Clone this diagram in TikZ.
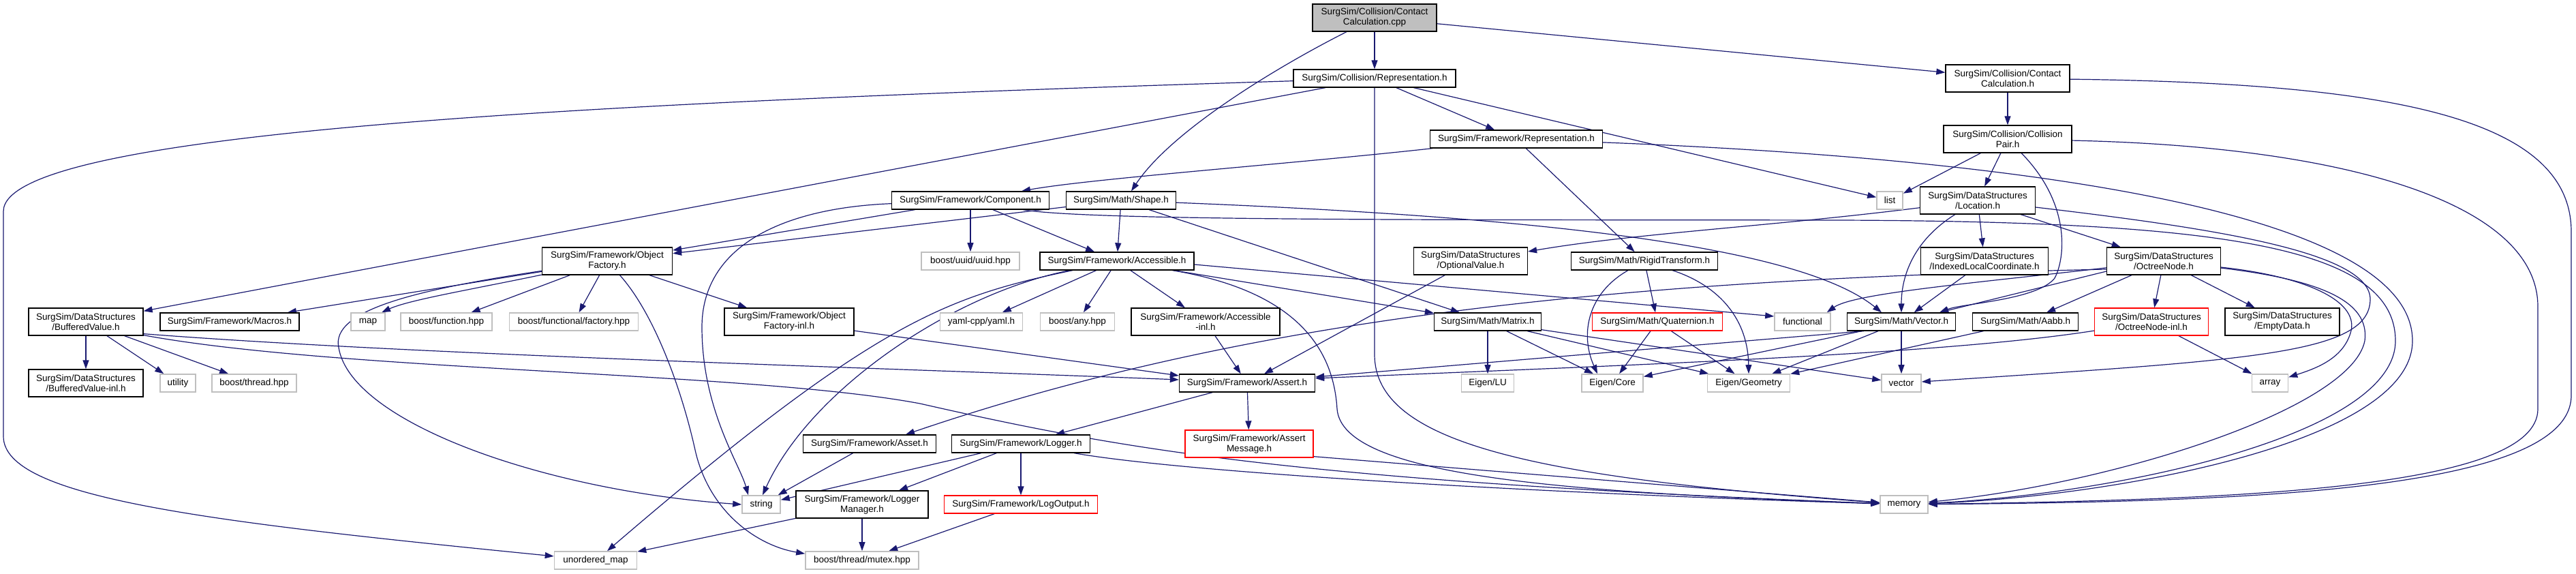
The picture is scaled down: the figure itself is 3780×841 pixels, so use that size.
\documentclass[tikz,border=0pt]{standalone}
\usepackage{fontspec}
\setmainfont{Liberation Sans}
\usetikzlibrary{arrows.meta,calc}
\pgfdeclarelayer{bg}
\pgfsetlayers{bg,main}
\definecolor{edgec}{HTML}{191970}
\definecolor{grayb}{HTML}{BFBFBF}
\tikzset{
  nd/.style={rectangle, draw=black, line width=1.3pt, fill=white, inner sep=0pt, align=center,
    font=\fontsize{13.5}{15}\selectfont, text=black},
  sys/.style={nd, draw=grayb, line width=1.6pt},
  trunc/.style={nd, draw=red},
  root/.style={nd, fill=grayb},
  edge/.style={draw=edgec, line width=1.2pt, -{Triangle[length=13pt,width=9pt]}},
}
\newcommand{\mynode}[7]{\node[#1, minimum width=#5pt, minimum height=#6pt] (#2) at (#3,#4) {#7};}
\begin{document}
\begin{tikzpicture}[x=1pt,y=-1pt]
\useasboundingbox (0,0) rectangle (3780,841);
% nodes
\mynode{root}{cpp}{2017}{26}{182}{40}{SurgSim/Collision/Contact\\Calculation.cpp}
\mynode{nd}{crep}{2017}{115}{238}{26}{SurgSim/Collision/Representation.h}
\mynode{nd}{frep}{2225}{204}{253}{26}{SurgSim/Framework/Representation.h}
\mynode{nd}{comp}{1424}{294}{231}{26}{SurgSim/Framework/Component.h}
\mynode{nd}{shape}{1645}{294}{161}{26}{SurgSim/Math/Shape.h}
\mynode{sys}{uuid}{1424}{383}{144}{26}{boost/uuid/uuid.hpp}
\mynode{nd}{acc}{1639}{383}{226}{26}{SurgSim/Framework/Accessible.h}
\mynode{nd}{optv}{2158}{383}{167}{40}{SurgSim/DataStructures\\/OptionalValue.h}
\mynode{nd}{rigid}{2413}{383}{215}{26}{SurgSim/Math/RigidTransform.h}
\mynode{nd}{cch}{2946}{115}{182}{40}{SurgSim/Collision/Contact\\Calculation.h}
\mynode{nd}{cpair}{2946}{204}{188}{40}{SurgSim/Collision/Collision\\Pair.h}
\mynode{sys}{list}{2773}{294}{38}{26}{list}
\mynode{nd}{loc}{2902}{294}{169}{40}{SurgSim/DataStructures\\/Location.h}
\mynode{nd}{ilc}{2912}{383}{187}{40}{SurgSim/DataStructures\\/IndexedLocalCoordinate.h}
\mynode{nd}{oct}{3175}{383}{167}{40}{SurgSim/DataStructures\\/OctreeNode.h}
\mynode{nd}{objf}{891}{383}{191}{40}{SurgSim/Framework/Object\\Factory.h}
\mynode{nd}{bval}{126}{472}{168}{40}{SurgSim/DataStructures\\/BufferedValue.h}
\mynode{nd}{macros}{337}{472}{204}{26}{SurgSim/Framework/Macros.h}
\mynode{sys}{map}{540}{472}{50}{26}{map}
\mynode{sys}{bfunc}{655}{472}{134}{26}{boost/function.hpp}
\mynode{sys}{bfactory}{842}{472}{189}{26}{boost/functional/factory.hpp}
\mynode{nd}{objfinl}{1158}{472}{190}{40}{SurgSim/Framework/Object\\Factory-inl.h}
\mynode{nd}{bvalinl}{126}{562}{168}{40}{SurgSim/DataStructures\\/BufferedValue-inl.h}
\mynode{sys}{utility}{261}{562}{52}{26}{utility}
\mynode{sys}{bthread}{373}{562}{124}{26}{boost/thread.hpp}
\mynode{sys}{string}{1117}{740}{56}{26}{string}
\mynode{nd}{logmgr}{1265}{740}{194}{40}{SurgSim/Framework/Logger\\Manager.h}
\mynode{sys}{umap}{874}{822}{121}{26}{unordered\_map}
\mynode{sys}{mutex}{1265}{822}{166}{26}{boost/thread/mutex.hpp}
\mynode{sys}{yaml}{1440}{472}{121}{26}{yaml-cpp/yaml.h}
\mynode{sys}{any}{1581}{472}{109}{26}{boost/any.hpp}
\mynode{nd}{accinl}{1769}{472}{218}{40}{SurgSim/Framework/Accessible\\-inl.h}
\mynode{nd}{matrix}{2183}{472}{157}{26}{SurgSim/Math/Matrix.h}
\mynode{trunc}{quat}{2432}{472}{191}{26}{SurgSim/Math/Quaternion.h}
\mynode{nd}{assert}{1830}{562}{199}{26}{SurgSim/Framework/Assert.h}
\mynode{sys}{eigenlu}{2183}{562}{77}{26}{Eigen/LU}
\mynode{sys}{eigencore}{2366}{562}{90}{26}{Eigen/Core}
\mynode{sys}{eigengeo}{2566}{562}{121}{26}{Eigen/Geometry}
\mynode{nd}{asset}{1276}{651}{195}{26}{SurgSim/Framework/Asset.h}
\mynode{nd}{logger}{1498}{651}{203}{26}{SurgSim/Framework/Logger.h}
\mynode{trunc}{amsg}{1833}{651}{188}{40}{SurgSim/Framework/Assert\\Message.h}
\mynode{trunc}{logout}{1498}{740}{225}{26}{SurgSim/Framework/LogOutput.h}
\mynode{sys}{functional}{2645}{472}{82}{26}{functional}
\mynode{nd}{vec}{2790}{472}{159}{26}{SurgSim/Math/Vector.h}
\mynode{nd}{aabb}{2972}{472}{155}{26}{SurgSim/Math/Aabb.h}
\mynode{trunc}{octinl}{3157}{472}{167}{40}{SurgSim/DataStructures\\/OctreeNode-inl.h}
\mynode{nd}{empty}{3349}{472}{168}{40}{SurgSim/DataStructures\\/EmptyData.h}
\mynode{sys}{vector}{2790}{562}{58}{26}{vector}
\mynode{sys}{array}{3331}{562}{53}{26}{array}
\mynode{sys}{memory}{2794}{740}{70}{26}{memory}
% edges
\begin{pgfonlayer}{bg}
\draw[edge] (cpp) -- (crep);
\draw[edge] (cpp) .. controls (1880,95) and (1720,190) .. ($(shape.north)+(15,0)$);
\draw[edge] (cpp) -- (cch);
\draw[edge] (crep) -- (frep);
\draw[edge] (crep) -- (list);
\draw[edge] (crep) -- (2017,520) .. controls (2017,650) and (2250,700) .. (memory);
\draw[edge] (crep) .. controls (900,150) and (5,190) .. (5,310) -- (5,640) .. controls (5,730) and (300,765) .. (umap);
\draw[edge] (crep) -- (bval);
\draw[edge] (frep) .. controls (1900,240) and (1600,262) .. ($(comp.north)+(75,0)$);
\draw[edge] (frep) -- (rigid);
\draw[edge] (frep) .. controls (2900,230) and (3540,300) .. (3540,500) .. controls (3540,650) and (3100,728) .. (memory);
\draw[edge] (comp) -- (objf);
\draw[edge] (comp) .. controls (1150,305) and (1030,360) .. (1030,480) .. controls (1030,600) and (1085,680) .. ($(string.north)+(-19,0)$);
\draw[edge] (comp) -- (uuid);
\draw[edge] (comp) -- (acc);
\draw[edge] (comp) .. controls (1600,325) and (2200,322) .. (2700,323) .. controls (3250,325) and (3515,360) .. (3515,500) .. controls (3515,640) and (3100,725) .. (memory);
\draw[edge] (shape) -- (objf);
\draw[edge] (shape) -- (acc);
\draw[edge] (shape) -- (matrix);
\draw[edge] (shape) .. controls (2250,318) and (2640,360) .. ($(vec.north)+(-29,0)$);
\draw[edge] (acc) .. controls (1390,435) and (1285,470) .. ($(umap.north)+(17,0)$);
\draw[edge] (acc) .. controls (1400,430) and (1190,570) .. ($(string.north)+(2,0)$);
\draw[edge] (acc) -- (yaml);
\draw[edge] (acc) -- (any);
\draw[edge] (acc) -- (accinl);
\draw[edge] (acc) .. controls (1860,420) and (1955,480) .. (1962,600) .. controls (1970,700) and (2300,722) .. (memory);
\draw[edge] (acc) -- (matrix);
\draw[edge] ($(acc.east)+(0,5)$) -- ($(functional.west)+(0,-8)$);
\draw[edge] (objf) -- (macros);
\draw[edge] (objf) .. controls (690,425) and (600,440) .. ($(map.north)+(20,0)$);
\draw[edge] (objf) -- (bfunc);
\draw[edge] (objf) -- (bfactory);
\draw[edge] (objf) -- (objfinl);
\draw[edge] (objf) .. controls (610,425) and (485,455) .. (497,510) .. controls (515,620) and (800,720) .. (string.west);
\draw[edge] (objf) .. controls (960,460) and (1000,570) .. (1020,660) .. controls (1040,750) and (1110,800) .. ($(mutex.north west)+(0,4)$);
\draw[edge] (bval) -- (bvalinl);
\draw[edge] (bval) -- (utility);
\draw[edge] (bval) -- (bthread);
\draw[edge] ($(bval.south east)+(0,-3)$) .. controls (600,520) and (1300,540) .. ($(assert.west)+(0,-5)$);
\draw[edge] ($(bval.south east)+(0,-1)$) .. controls (500,545) and (1100,545) .. (1350,592) .. controls (1650,660) and (1900,705) .. (memory);
\draw[edge] (objfinl) -- ($(assert.west)+(0,-11)$);
\draw[edge] (accinl) -- (assert);
\draw[edge] (optv) -- (assert);
\draw[edge] ($(vec.south west)+(25,0)$) -- ($(assert.east)+(0,-9)$);
\draw[edge] (octinl) .. controls (2850,520) and (2400,535) .. ($(assert.east)+(0,-7)$);
\draw[edge] (vec) -- (vector);
\draw[edge] ($(vec.south west)+(22,0)$) -- (eigencore);
\draw[edge] (vec) -- (eigengeo);
\draw[edge] (matrix) -- (eigenlu);
\draw[edge] (matrix) -- (eigencore);
\draw[edge] (matrix) -- (eigengeo);
\draw[edge] (matrix) -- (vector);
\draw[edge] (quat) -- (eigencore);
\draw[edge] (quat) -- (eigengeo);
\draw[edge] (rigid) .. controls (2330,430) and (2318,490) .. ($(eigencore.north)+(-22,0)$);
\draw[edge] (rigid) -- (quat);
\draw[edge] (rigid) .. controls (2525,420) and (2565,470) .. (eigengeo.north);
\draw[edge] (cch) -- (cpair);
\draw[edge] (cch) .. controls (3500,122) and (3773,170) .. (3773,340) -- (3773,580) .. controls (3773,720) and (3300,736) .. (memory);
\draw[edge] (cpair) -- (list);
\draw[edge] (cpair) -- (loc);
\draw[edge] (cpair) .. controls (3040,300) and (3030,380) .. (3015,408) .. controls (2990,440) and (2880,445) .. ($(vec.north)+(56,0)$);
\draw[edge] (cpair) .. controls (3450,215) and (3724,300) .. (3724,450) -- (3724,600) .. controls (3724,715) and (3300,733) .. (memory);
\draw[edge] (loc) .. controls (2600,332) and (2400,342) .. ($(optv.east)+(0,-14)$);
\draw[edge] (loc) .. controls (2812,350) and (2790,400) .. (vec.north);
\draw[edge] (loc) -- (ilc);
\draw[edge] (loc) -- (oct);
\draw[edge] (loc) .. controls (3250,335) and (3480,370) .. (3478,440) .. controls (3476,520) and (3300,528) .. (vector);
\draw[edge] (ilc) -- (vec);
\draw[edge] ($(oct.west)+(0,12)$) .. controls (2400,410) and (1850,460) .. ($(asset.north)+(53,0)$);
\draw[edge] (oct) .. controls (2900,415) and (2720,430) .. ($(functional.north east)+(-6,0)$);
\draw[edge] ($(oct.west)+(0,15)$) -- ($(vec.north)+(56,0)$);
\draw[edge] (oct) -- (aabb);
\draw[edge] (oct) -- (octinl);
\draw[edge] (oct) -- (empty);
\draw[edge] (oct) .. controls (3380,405) and (3460,440) .. (3450,485) .. controls (3440,525) and (3400,540) .. (array);
\draw[edge] (oct) .. controls (3400,410) and (3478,440) .. (3470,500) .. controls (3450,600) and (3100,710) .. (memory);
\draw[edge] (octinl) -- (array);
\draw[edge] (aabb) -- (eigengeo);
\draw[edge] (assert) -- (logger);
\draw[edge] (assert) -- (amsg);
\draw[edge] ($(amsg.south east)+(0,-2)$) -- (memory);
\draw[edge] (logger) -- (string);
\draw[edge] (logger) -- (logmgr);
\draw[edge] (logger) -- (logout);
\draw[edge] (logger) .. controls (1750,695) and (2300,725) .. (memory);
\draw[edge] (logmgr) -- (mutex);
\draw[edge] (logmgr) -- (umap);
\draw[edge] (logout) -- (mutex);
\draw[edge] (asset) -- (string);
\end{pgfonlayer}
\end{tikzpicture}
\end{document}
